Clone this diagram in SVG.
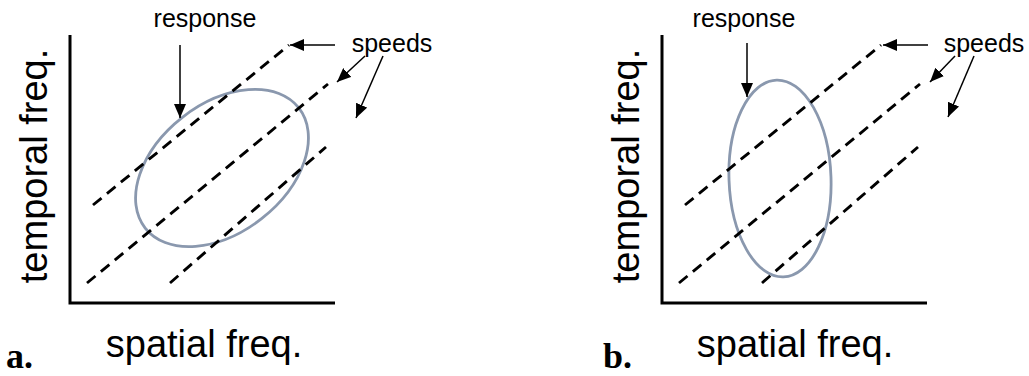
<svg xmlns="http://www.w3.org/2000/svg" width="1029" height="376" viewBox="0 0 1029 376">
<style>
.ax{stroke:#000;stroke-width:3;fill:none}
.dash{stroke:#000;stroke-width:2.9;fill:none;stroke-dasharray:11 7}
.arr{stroke:#000;stroke-width:1.5;fill:none;marker-end:url(#ah)}
.ell{stroke:#8a98ae;stroke-width:2.8;fill:none}
.lbl{font-family:"Liberation Sans",Arial,sans-serif;font-size:38px;fill:#000}
.sm{font-family:"Liberation Sans",Arial,sans-serif;font-size:25px;fill:#000}
.pl{font-family:"Liberation Serif","Times New Roman",serif;font-size:36px;font-weight:bold;fill:#000}
</style>
<defs>
<marker id="ah" viewBox="0 0 14 12" refX="14" refY="6" markerWidth="14" markerHeight="12" markerUnits="userSpaceOnUse" orient="auto">
<path d="M0,0 L14,6 L0,12 z" fill="#000"/>
</marker>
</defs>
<rect width="1029" height="376" fill="#fff"/>
<g id="panel-a">
<g id="a-axes"><path class="ax" d="M70,35 V303 H335"/></g>
<g id="a-response"><ellipse class="ell" cx="222" cy="168" rx="97.5" ry="64.3" transform="rotate(-38 222 168)"/></g>
<g id="a-speeds">
<line class="dash" x1="93" y1="205" x2="289" y2="45"/>
<line class="dash" x1="87" y1="283" x2="328" y2="84"/>
<line class="dash" x1="170" y1="283" x2="326" y2="147"/>
</g>
<g id="a-labels">
<text class="lbl" text-anchor="middle" transform="translate(47,166) rotate(-90)">temporal freq.</text>
<text class="lbl" x="204" y="357" text-anchor="middle">spatial freq.</text>
<text class="sm" x="205" y="27" text-anchor="middle">response</text>
<text class="sm" x="392" y="52" text-anchor="middle">speeds</text>
<text class="pl" x="6" y="368">a.</text>
</g>
</g>
<g id="panel-b">
<g id="b-axes"><path class="ax" d="M662,35 V303 H927"/></g>
<g id="b-response"><ellipse class="ell" cx="780" cy="178.5" rx="51" ry="98.5" transform="rotate(-2 780 178.5)"/></g>
<g id="b-speeds">
<line class="dash" x1="685" y1="205" x2="881" y2="45"/>
<line class="dash" x1="679" y1="283" x2="920" y2="84"/>
<line class="dash" x1="762" y1="283" x2="918" y2="147"/>
</g>
<g id="b-labels">
<text class="lbl" text-anchor="middle" transform="translate(639,166) rotate(-90)">temporal freq.</text>
<text class="lbl" x="795" y="357" text-anchor="middle">spatial freq.</text>
<text class="sm" x="744" y="27" text-anchor="middle">response</text>
<text class="sm" x="984" y="52" text-anchor="middle">speeds</text>
<text class="pl" x="603" y="368">b.</text>
</g>
</g>
<g id="connectors">
<line class="arr" x1="180" y1="45" x2="180" y2="118"/>
<line class="arr" x1="335" y1="45" x2="290" y2="45"/>
<line class="arr" x1="365" y1="56" x2="337" y2="82"/>
<line class="arr" x1="383" y1="56" x2="356" y2="118"/>
<line class="arr" x1="747" y1="43" x2="747" y2="97"/>
<line class="arr" x1="928" y1="45" x2="883" y2="45"/>
<line class="arr" x1="955" y1="56" x2="930" y2="82"/>
<line class="arr" x1="974" y1="56" x2="948" y2="117"/>
</g>
</svg>
